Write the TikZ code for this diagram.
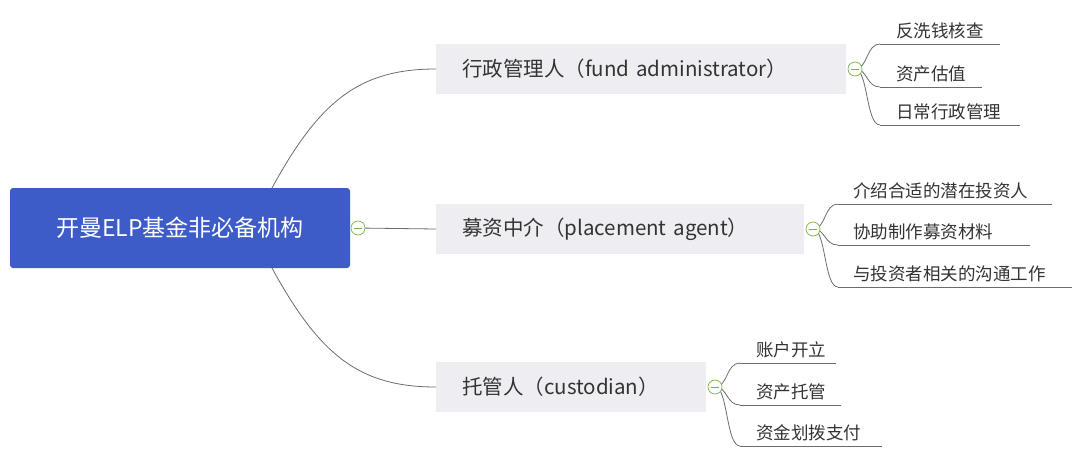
\documentclass[tikz,border=0pt]{standalone}
\usepackage{fontspec}
\setmainfont{Noto Sans CJK SC}
\usetikzlibrary{positioning,calc}
\definecolor{rootblue}{HTML}{3E5CC8}
\definecolor{boxgrey}{HTML}{EEEEF2}
\definecolor{txt}{HTML}{333333}
\definecolor{knob}{HTML}{7DB343}
\tikzset{
  root/.style={fill=rootblue,rounded corners=3pt,text=white,font=\fontsize{23}{26}\selectfont,
    minimum width=340pt,minimum height=80pt,inner sep=0pt},
  branch/.style={fill=boxgrey,text=txt,font=\fontsize{20.5}{24}\selectfont,anchor=west,
    minimum height=50pt,inner xsep=26pt,inner ysep=0pt,align=left},
  leaf/.style={text=txt,font=\fontsize{17.5}{20}\selectfont,anchor=south west,inner sep=0pt},
  link/.style={draw=gray!85!black,line width=0.8pt},
  ul/.style={draw=gray!85!black,line width=0.8pt},
}
\newcommand{\knob}[1]{\draw[knob,fill=white,line width=0.7pt] (#1) circle (7pt);
  \draw[knob,line width=0.9pt] ($(#1)+(-4pt,0)$) -- ($(#1)+(4pt,0)$);}
\begin{document}
\begin{tikzpicture}[x=1pt,y=-1pt]
\useasboundingbox (0,0) rectangle (1080,464);
%root
\node[root] (R) at (180,228) {开曼ELP基金非必备机构};
\coordinate (RT) at (272,188);
\coordinate (RB) at (272,268);
\coordinate (RK) at (358,228);
%branches
\node[branch,text width=358pt] (A) at (436,69) {行政管理人（fund administrator）};
\node[branch,text width=316pt] (B) at (436,229) {募资中介（placement agent）};
\node[branch,text width=218pt] (C) at (436,387) {托管人（custodian）};
\draw[link] (RT) .. controls (320,100) and (360,69) .. (A.west);
\draw[link] (RK) -- (B.west);
\draw[link] (RB) .. controls (320,356) and (360,387) .. (C.west);
%leaves A
\coordinate (AK) at (855,69);
\foreach \y/\e/\t [count=\i] in {44/1000/反洗钱核查,87/982/资产估值,125/1020/日常行政管理}{
  \coordinate (a\i) at (880,\y);
  \draw[ul] (a\i) -- (\e,\y);
  \node[leaf] (at\i) at (896,\y-5) {\t};
  \draw[link] (AK) .. controls (868,69) and (866,\y) .. (a\i);
}
%leaves B
\coordinate (BK) at (813,229);
\foreach \y/\e/\t [count=\i] in {204/1052/介绍合适的潜在投资人,245/1030/协助制作募资材料,287/1072/与投资者相关的沟通工作}{
  \coordinate (b\i) at (838,\y);
  \draw[ul] (b\i) -- (\e,\y);
  \node[leaf] (bt\i) at (853,\y-5) {\t};
  \draw[link] (BK) .. controls (826,229) and (824,\y) .. (b\i);
}
%leaves C
\coordinate (CK) at (715,387);
\foreach \y/\e/\t [count=\i] in {363/836/账户开立,405/841/资产托管,446/882/资金划拨支付}{
  \coordinate (c\i) at (740,\y);
  \draw[ul] (c\i) -- (\e,\y);
  \node[leaf] (ct\i) at (756,\y-5) {\t};
  \draw[link] (CK) .. controls (728,387) and (726,\y) .. (c\i);
}
\knob{RK}\knob{AK}\knob{BK}\knob{CK}
\end{tikzpicture}
\end{document}
